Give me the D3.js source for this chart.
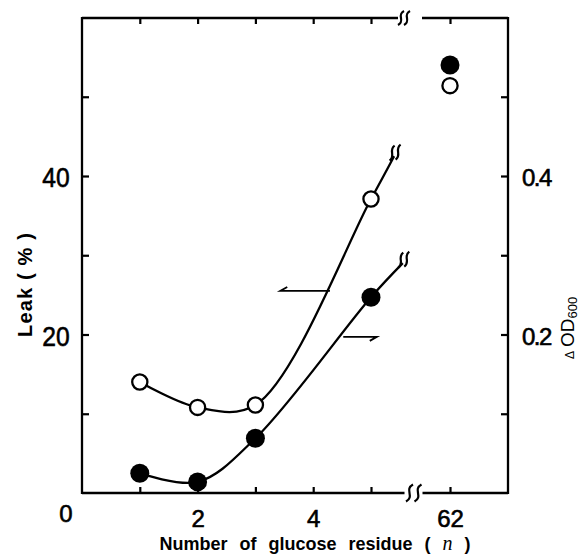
<!DOCTYPE html>
<html>
<head>
<meta charset="utf-8">
<script src="https://cdn.jsdelivr.net/npm/d3@7/dist/d3.min.js"></script>
<style>
  html, body { margin: 0; padding: 0; background: #fff; }
  svg { display: block; }
  text { font-family: "Liberation Sans", Arial, sans-serif; fill: #000; }
</style>
</head>
<body>
<svg id="chart" width="582" height="556"></svg>
<script>
// Number of glucose residues (n)
const residues = [1, 2, 3, 5, 62];
// Leak (%) — open circles, left axis
const leakPct = [14.0, 10.8, 11.1, 37.1, 51.4];
// ΔOD600 — filled circles, right axis
const deltaOD = [0.025, 0.014, 0.069, 0.247, 0.540];
// where each fitted curve stops before the axis break
const leakCurveEnd = [5.4, 42.5];
const odCurveEnd = [5.55, 0.290];
// axis ticks and labels
const xTicks = [1, 2, 3, 4, 5, 62];
const xTickLabels = [2, 4, 62];
const leftTicks = [10, 20, 30, 40, 50];
const leftTickLabels = [20, 40];
const rightTicks = [0.1, 0.2, 0.3, 0.4, 0.5];
const rightTickLabels = [0.2, 0.4];
// pointer arrows: which axis each curve belongs to
const leakArrow = { value: 25.5, from: 4.29, to: 3.43 };
const odArrow = { value: 0.197, from: 4.52, to: 5.10 };

const svg = d3.select("#chart");
const L = 82, R = 508, T = 18, B = 493;

// broken x axis: 0..6 linear, then a jump to the n = 62 column
const x = d3.scaleLinear().domain([0, 6, 62, 65]).range([L, 428.8, 450, R]);
const yL = d3.scaleLinear().domain([0, 60]).range([B, B - 7.925 * 60]);
const yR = d3.scaleLinear().domain([0, 0.6]).range([B, B - 7.925 * 60]);

const ink = "#000";
const axisW = 2.3;

// ---- frame with breaks ----
const frame = svg.append("g").attr("stroke", ink).attr("stroke-width", axisW).attr("fill", "none");
const botBreak = 413.5, topBreak = 403;
frame.append("line").attr("x1", L).attr("x2", L).attr("y1", T - 1).attr("y2", B + 1);
frame.append("line").attr("x1", R).attr("x2", R).attr("y1", T - 1).attr("y2", B + 1);
frame.append("line").attr("x1", L).attr("x2", botBreak - 9).attr("y1", B).attr("y2", B);
frame.append("line").attr("x1", botBreak + 9).attr("x2", R).attr("y1", B).attr("y2", B);
frame.append("line").attr("x1", L).attr("x2", topBreak - 5).attr("y1", T).attr("y2", T);
frame.append("line").attr("x1", topBreak + 19).attr("x2", R).attr("y1", T).attr("y2", T);

function sMark(g, cx, cy, h, w) {
  g.append("path")
    .attr("d", `M${cx - w},${cy + h / 2} C${cx + w * 1.6},${cy + h / 5} ${cx - w * 1.6},${cy - h / 5} ${cx + w},${cy - h / 2}`)
    .attr("stroke", ink).attr("stroke-width", 2.2).attr("fill", "none");
}
sMark(svg, botBreak - 4, B, 17, 3.5);
sMark(svg, botBreak + 4.5, B, 17, 3.5);
sMark(svg, topBreak - 2, T, 14, 3);
sMark(svg, topBreak + 4, T, 14, 3);

// ---- axes (ticks point inward) ----
function styleAxis(g) {
  g.select(".domain").remove();
  g.selectAll(".tick line").attr("stroke", ink).attr("stroke-width", 2.2);
}
function heavy(sel) {
  sel.attr("font-family", "Liberation Sans").attr("fill", ink)
    .attr("stroke", ink).attr("stroke-width", 0.6);
}
svg.append("g").attr("transform", `translate(0,${B})`)
  .call(d3.axisBottom(x).tickValues(xTicks).tickSizeInner(-6).tickSizeOuter(0).tickPadding(17)
    .tickFormat(d => xTickLabels.includes(d) ? d : ""))
  .call(styleAxis)
  .call(g => g.selectAll("text").attr("font-size", 24).call(heavy));

svg.append("g").attr("transform", `translate(0,${T})`)
  .call(d3.axisTop(x).tickValues(xTicks).tickSizeInner(-6).tickSizeOuter(0).tickFormat(""))
  .call(styleAxis);

svg.append("g").attr("transform", `translate(${L},0)`)
  .call(d3.axisLeft(yL).tickValues(leftTicks).tickSizeInner(-7).tickSizeOuter(0).tickPadding(14)
    .tickFormat(d => leftTickLabels.includes(d) ? d : ""))
  .call(styleAxis)
  .call(g => g.selectAll("text").attr("font-size", 28).call(heavy)
    .attr("dy", "0.38em").attr("transform", "scale(0.88,1)"));

svg.append("g").attr("transform", `translate(${R},0)`)
  .call(d3.axisRight(yR).tickValues(rightTicks).tickSizeInner(-7).tickSizeOuter(0).tickPadding(14)
    .tickFormat(d => rightTickLabels.includes(d) ? d3.format(".1f")(d) : ""))
  .call(styleAxis)
  .call(g => g.selectAll("text").attr("font-size", 24).call(heavy)
    .attr("letter-spacing", -1.5).attr("dy", "0.4em"));

// shared origin label
svg.append("text").attr("x", x(0) - 16).attr("y", B + 29)
  .attr("text-anchor", "middle").attr("font-size", 24).call(heavy).text("0");

// ---- axis titles ----
svg.append("text")
  .attr("transform", `translate(32,285) rotate(-90)`)
  .attr("text-anchor", "middle").attr("font-size", 20).attr("font-weight", "bold")
  .attr("textLength", 104).attr("lengthAdjust", "spacing")
  .text("Leak ( % )");

const xt = svg.append("text").attr("x", 315).attr("y", 550)
  .attr("text-anchor", "middle").attr("font-size", 18).attr("font-weight", "bold")
  .attr("word-spacing", 7);
xt.append("tspan").text("Number of  glucose residue ( ");
xt.append("tspan").attr("font-family", "Liberation Serif").attr("font-style", "italic")
  .attr("font-weight", "normal").attr("font-size", 20).text("n");
xt.append("tspan").text(" )");

const rt = svg.append("text")
  .attr("transform", `translate(574,359) rotate(-90)`)
  .attr("font-size", 19);
rt.append("tspan").attr("font-size", 12).text("\u0394");
rt.append("tspan").attr("dx", 4).text("OD");
rt.append("tspan").attr("font-size", 13).attr("dy", 3).text("600");

// ---- curves ----
const line = (yScale) => d3.line().x(d => x(d[0])).y(d => yScale(d[1])).curve(d3.curveCatmullRom.alpha(0.5));
const leakPts = residues.slice(0, 4).map((n, i) => [n, leakPct[i]]).concat([leakCurveEnd]);
const odPts = residues.slice(0, 4).map((n, i) => [n, deltaOD[i]]).concat([odCurveEnd]);

svg.append("path").attr("d", line(yL)(leakPts)).attr("fill", "none").attr("stroke", ink).attr("stroke-width", 2.3);
svg.append("path").attr("d", line(yR)(odPts)).attr("fill", "none").attr("stroke", ink).attr("stroke-width", 2.3);

// break marks at the curve ends
function curveBreak(px, py) {
  sMark(svg, px - 2, py - 3, 15, 2.5);
  sMark(svg, px + 4, py - 4, 15, 2.5);
}
curveBreak(x(leakCurveEnd[0]), yL(leakCurveEnd[1]));
curveBreak(x(odCurveEnd[0]), yR(odCurveEnd[1]));

// ---- pointer arrows ----
function halfArrow(x0, x1, yy, up) {
  svg.append("path")
    .attr("d", `M${x0},${yy} L${x1},${yy} l${x1 < x0 ? 7 : -7},${up ? -4 : 4}`)
    .attr("fill", "none").attr("stroke", ink).attr("stroke-width", 1.8);
}
halfArrow(x(leakArrow.from), x(leakArrow.to), yL(leakArrow.value), true);
halfArrow(x(odArrow.from), x(odArrow.to), yR(odArrow.value), false);

// ---- points ----
svg.append("g").selectAll("circle").data(residues).join("circle")
  .attr("cx", d => x(d)).attr("cy", (d, i) => yR(deltaOD[i]))
  .attr("r", 9.5).attr("fill", ink);
svg.append("g").selectAll("circle").data(residues).join("circle")
  .attr("cx", d => x(d)).attr("cy", (d, i) => yL(leakPct[i]))
  .attr("r", 7.6).attr("fill", "#fff").attr("stroke", ink).attr("stroke-width", 2.3);
</script>
</body>
</html>
